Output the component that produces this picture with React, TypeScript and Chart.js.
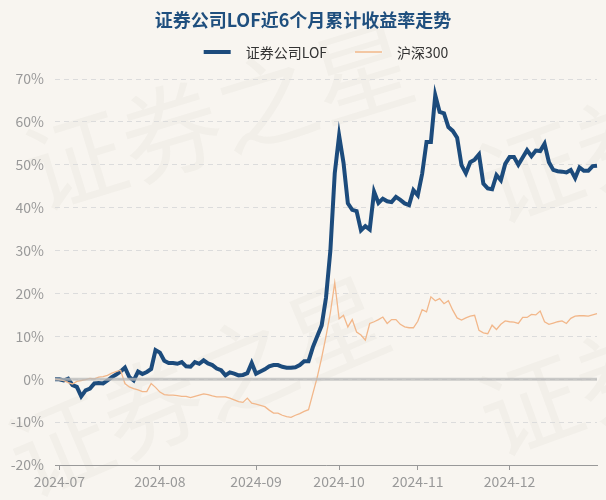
import React, { useEffect, useRef } from 'react';
import { Chart, registerables } from 'chart.js';

Chart.register(...registerables);

const TITLE = '证券公司LOF近6个月累计收益率走势';
const SERIES_NAMES = ['证券公司LOF', '沪深300'];
const SERIES_COLORS = ['#1c4b7c', '#f2b78a'];
const WATERMARK = '证券之星';

// trading days per month (first entry = base day at end of June)
const MONTHS = ['2024-06', '2024-07', '2024-08', '2024-09', '2024-10', '2024-11', '2024-12'];
const TRADING_DAYS: number[][] = [
  [28],
  [1, 2, 3, 4, 5, 8, 9, 10, 11, 12, 15, 16, 17, 18, 19, 22, 23, 24, 25, 26, 29, 30, 31],
  [1, 2, 5, 6, 7, 8, 9, 12, 13, 14, 15, 16, 19, 20, 21, 22, 23, 26, 27, 28, 29, 30],
  [2, 3, 4, 5, 6, 9, 10, 11, 12, 13, 18, 19, 20, 23, 24, 25, 26, 27, 30],
  [8, 9, 10, 11, 14, 15, 16, 17, 18, 21, 22, 23, 24, 25, 28, 29, 30, 31],
  [1, 4, 5, 6, 7, 8, 11, 12, 13, 14, 15, 18, 19, 20, 21, 22, 25, 26, 27, 28, 29],
  [2, 3, 4, 5, 6, 9, 10, 11, 12, 13, 16, 17, 18, 19, 20, 23, 24, 25, 26, 27, 30],
];

// cumulative return, %
const fundReturns = [
  0, 0, -0.3, 0.1, -1.4, -1.8, -4.0, -2.6, -2.2, -1.0,
  -0.9, -1.0, -0.3, 0.5, 1.1, 1.8, 2.7, 0.5, -0.3, 1.8,
  1.2, 1.7, 2.4, 6.8, 6.2, 4.3, 3.8, 3.8, 3.6, 4.0,
  3.0, 2.9, 4.0, 3.6, 4.4, 3.7, 3.3, 2.5, 2.1, 0.9,
  1.6, 1.3, 0.9, 1.0, 1.4, 3.8, 1.3, 1.8, 2.3, 3.0,
  3.3, 3.3, 2.9, 2.7, 2.7, 2.8, 3.3, 4.2, 4.2, 7.5,
  10.0, 12.5, 19.0, 30.0, 48.0, 56.8, 50.5, 41.0, 39.5, 39.2,
  34.7, 35.7, 34.9, 43.7, 41.1, 42.1, 41.5, 41.3, 42.5, 41.8,
  41.0, 40.6, 44.1, 42.9, 47.9, 55.3, 55.3, 66.2, 62.3, 62.0,
  58.8, 57.9, 56.3, 49.9, 48.0, 50.6, 51.2, 52.4, 45.6, 44.5,
  44.3, 47.6, 46.4, 50.2, 51.8, 51.8, 50.0, 51.7, 53.4, 52.0,
  53.3, 53.2, 54.9, 50.6, 48.8, 48.5, 48.4, 48.2, 48.8, 46.9,
  49.4, 48.6, 48.6, 49.7, 49.8,
];

const csi300Returns = [
  0, -0.1, -0.3, -0.8, -1.1, -0.5, -0.3, -0.1, 0.2, 0.1,
  0.5, 0.6, 0.9, 1.4, 1.8, 2.1, -1.0, -1.8, -2.2, -2.5,
  -2.9, -2.9, -1.0, -1.9, -3.0, -3.6, -3.7, -3.7, -3.8, -4.0,
  -4.0, -4.3, -4.0, -3.7, -3.4, -3.6, -3.9, -4.1, -4.1, -4.1,
  -4.4, -4.8, -5.2, -5.4, -4.4, -5.6, -5.8, -6.1, -6.4, -7.2,
  -7.9, -7.9, -8.4, -8.7, -8.9, -8.4, -8.0, -7.5, -7.1, -3.3,
  0.5, 5.0, 10.0, 15.5, 22.5, 14.1, 14.9, 12.2, 13.9, 11.0,
  10.3, 9.1, 13.0, 13.4, 13.9, 14.5, 13.0, 13.9, 13.9, 12.8,
  12.2, 12.0, 12.0, 13.5, 16.2, 15.7, 19.2, 18.3, 18.8, 17.6,
  18.3, 16.1, 14.3, 13.8, 14.3, 14.7, 14.9, 11.4, 10.8, 10.6,
  12.6, 11.6, 12.8, 13.6, 13.4, 13.3, 13.0, 14.4, 14.4, 15.1,
  15.0, 15.9, 13.4, 12.8, 13.1, 13.4, 13.6, 13.0, 14.2, 14.7,
  14.8, 14.8, 14.7, 15.0, 15.3,
];

const Y_MIN = -20;
const Y_MAX = 70;
const Y_STEP = 10;

const labels: string[] = [];
const monthStartIdx: number[] = [];
MONTHS.forEach((m, mi) => {
  TRADING_DAYS[mi].forEach((d, di) => {
    if (mi > 0 && di === 0) monthStartIdx.push(labels.length);
    labels.push(`${m}-${String(d).padStart(2, '0')}`);
  });
});

const FONT = '"Noto Sans CJK SC", "Noto Sans", sans-serif';
const BG = '#f8f5f0';

// watermark placements: [x, y, angle in degrees]
const WATERMARK_SPOTS: number[][] = [
  [75, 160, -17],
  [60, 445, -23],
  [530, 172, -20],
  [530, 405, -20],
];

const decorPlugin = {
  id: 'decor',
  beforeDraw(chart: any) {
    const { ctx, width, height } = chart;
    ctx.save();
    ctx.fillStyle = BG;
    ctx.fillRect(0, 0, width, height);
    ctx.font = `100px ${FONT}`;
    ctx.fillStyle = 'rgba(120,110,95,0.045)';
    ctx.textAlign = 'left';
    ctx.textBaseline = 'middle';
    WATERMARK_SPOTS.forEach(([x, y, a]) => {
      ctx.save();
      ctx.translate(x, y);
      ctx.rotate((a * Math.PI) / 180);
      ctx.fillText(WATERMARK, -50, 0);
      ctx.restore();
    });
    ctx.restore();
  },
  afterDatasetsDraw(chart: any) {
    const { ctx, chartArea, scales } = chart;
    const y0 = scales.y.getPixelForValue(0);
    ctx.save();
    ctx.strokeStyle = 'rgba(185,185,185,0.75)';
    ctx.lineWidth = 3;
    ctx.beginPath();
    ctx.moveTo(chartArea.left, y0);
    ctx.lineTo(chartArea.right, y0);
    ctx.stroke();
    ctx.restore();
  },
  afterDraw(chart: any) {
    const { ctx, chartArea, width } = chart;
    ctx.save();
    ctx.font = `bold 18px ${FONT}`;
    ctx.fillStyle = '#1f4f7e';
    ctx.textAlign = 'center';
    ctx.textBaseline = 'middle';
    ctx.fillText(TITLE, width / 2, 20);

    ctx.font = `14px ${FONT}`;
    const lineW = 27;
    const gapLT = 15;
    const gapItems = 28;
    const widths = SERIES_NAMES.map((n) => ctx.measureText(n).width);
    const total = widths.reduce((a, w) => a + lineW + gapLT + w, 0) + gapItems * (SERIES_NAMES.length - 1);
    let x = (chartArea.left + chartArea.right) / 2 - total / 2;
    const y = 52;
    SERIES_NAMES.forEach((n, i) => {
      ctx.strokeStyle = SERIES_COLORS[i];
      ctx.lineWidth = i === 0 ? 4 : 1.5;
      ctx.beginPath();
      ctx.moveTo(x, y);
      ctx.lineTo(x + lineW, y);
      ctx.stroke();
      x += lineW + gapLT;
      ctx.fillStyle = '#333';
      ctx.textAlign = 'left';
      ctx.textBaseline = 'middle';
      ctx.fillText(n, x, y + 1);
      x += widths[i] + gapItems;
    });
    ctx.restore();
  },
};

export default function App() {
  const canvasRef = useRef<HTMLCanvasElement | null>(null);

  useEffect(() => {
    document.body.style.margin = '0';
    const canvas = canvasRef.current;
    if (!canvas) return;
    const chart = new Chart(canvas, {
      type: 'line',
      data: {
        labels,
        datasets: [
          {
            label: SERIES_NAMES[0],
            data: fundReturns,
            borderColor: SERIES_COLORS[0],
            backgroundColor: SERIES_COLORS[0],
            borderWidth: 4,
            pointRadius: 0,
            tension: 0,
            order: 1,
          },
          {
            label: SERIES_NAMES[1],
            data: csi300Returns,
            borderColor: SERIES_COLORS[1],
            backgroundColor: SERIES_COLORS[1],
            borderWidth: 1.3,
            pointRadius: 0,
            tension: 0,
            order: 0,
          },
        ],
      },
      options: {
        responsive: false,
        animation: false,
        devicePixelRatio: 1,
        layout: { padding: { top: 79, right: 9, bottom: 0, left: 0 } },
        plugins: {
          legend: { display: false },
          title: { display: false },
          tooltip: { enabled: false },
        },
        scales: {
          x: {
            type: 'category',
            offset: false,
            grid: {
              display: true,
              drawOnChartArea: false,
              drawTicks: true,
              tickLength: 5,
              color: '#999',
            },
            border: { display: true, color: '#999', width: 1 },
            ticks: {
              autoSkip: false,
              maxRotation: 0,
              padding: 3,
              color: '#999',
              font: { size: 14, family: FONT },
              callback: (v: any) => labels[v as number].slice(0, 7),
            },
            afterBuildTicks: (scale: any) => {
              scale.ticks = monthStartIdx.map((v) => ({ value: v }));
            },
            afterFit: (scale: any) => {
              scale.height = 35;
            },
          },
          y: {
            min: Y_MIN,
            max: Y_MAX,
            grid: {
              color: '#dcdcdc',
              lineWidth: 1,
              drawTicks: false,
            },
            border: { display: false, dash: [5, 4] },
            ticks: {
              stepSize: Y_STEP,
              padding: 11,
              color: '#999',
              font: { size: 14, family: FONT },
              callback: (v: any) => `${v}%`,
            },
            afterFit: (scale: any) => {
              scale.width = 55;
            },
          },
        },
      },
      plugins: [decorPlugin],
    });
    return () => chart.destroy();
  }, []);

  return (
    <div style={{ width: 606, height: 500, background: BG }}>
      <canvas ref={canvasRef} width={606} height={500} style={{ display: 'block', width: 606, height: 500 }} />
    </div>
  );
}
